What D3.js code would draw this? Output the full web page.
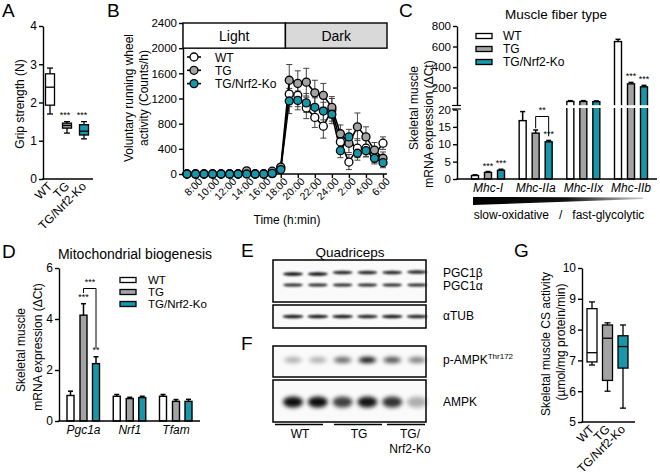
<!doctype html>
<html lang="en">
<head>
<meta charset="utf-8">
<script src="https://cdn.jsdelivr.net/npm/d3@7"></script>
<style>
  body {margin:0; background:#fff}
  svg {font-family: "Liberation Sans", Arial, sans-serif}
  .axis path, .axis line {stroke:#000; stroke-width:1.4px}
  .axis text {fill:#000}
</style>
</head>
<body>
<script>
// ---------- shared ----------
const genotypes = ["WT", "TG", "TG/Nrf2-Ko"];
const fills = ["#ffffff", "#a3a3a3", "#1996aa"];

// ---------- A: grip strength (box plot) ----------
const gripMin = [1.7, 1.2, 1.05];
const gripQ1  = [1.93, 1.33, 1.15];
const gripMed = [2.4, 1.4, 1.25];
const gripQ3  = [2.75, 1.46, 1.42];
const gripMax = [2.9, 1.5, 1.5];
const gripStars = ["", "***", "***"];

// ---------- B: running wheel ----------
const wheelHours = [7,8,9,10,11,12,13,14,15,16,17,18,19,20,21,22,23,24,25,26,27,28,29,30];
const wheelTicks = [8,10,12,14,16,18,20,22,24,26,28,30];
const wheelWT    = [0,0,0,0,0,0,0,10,0,0,5,90, 1270,1250,1050,900,760,1020,510,190,410,410,300,490];
const wheelWTErr = [0,0,0,0,0,0,0,10,0,0,5,30, 200,180,170,160,190,180,150,120,150,130,120,100];
const wheelTG    = [0,0,0,0,0,0,0,50,0,0,45,110, 1490,1440,1460,1290,1250,1060,640,490,750,590,380,250];
const wheelTGErr = [0,0,0,0,0,0,0,20,0,0,20,40, 250,200,220,200,190,170,140,150,220,160,120,100];
const wheelKO    = [0,0,0,0,0,0,0,0,0,0,10,70, 1160,1170,1130,1060,1000,950,370,590,330,370,250,180];
const wheelKOErr = [0,0,0,0,0,0,0,0,0,0,5,30, 200,150,150,150,140,150,110,120,110,100,90,80];

// ---------- C: muscle fiber type ----------
const fiberGenes = ["Mhc-I", "Mhc-IIa", "Mhc-IIx", "Mhc-IIb"];
const fiberWT    = [1.0, 16.8, 64, 648];
const fiberWTErr = [0.2, 2.6, 8, 22];
const fiberTG    = [1.9, 13.2, 64, 236];
const fiberTGErr = [0.25, 0.9, 8, 14];
const fiberKO    = [2.5, 10.7, 62, 207];
const fiberKOErr = [0.3, 0.4, 8, 14];
const fiberStarsTG = ["***", "", "", "***"];
const fiberStarsKO = ["***", "***", "", "***"];

// ---------- D: mitochondrial biogenesis ----------
const mitoGenes = ["Pgc1a", "Nrf1", "Tfam"];
const mitoWT    = [1.0, 0.97, 0.97];
const mitoWTErr = [0.17, 0.07, 0.07];
const mitoTG    = [4.15, 0.88, 0.77];
const mitoTGErr = [0.45, 0.05, 0.07];
const mitoKO    = [2.25, 0.92, 0.77];
const mitoKOErr = [0.27, 0.05, 0.08];

// ---------- E/F: blots (relative band intensity per lane) ----------
const blotLanes = [0,1,2,3,4,5];
const bandPGC1b = [0.95, 0.95, 0.85, 0.85, 0.85, 0.85];
const bandPGC1a = [0.85, 0.85, 0.85, 0.85, 0.85, 0.85];
const bandTUB   = [0.9, 0.9, 0.9, 0.85, 0.9, 0.85];
const bandPAMPK = [0.3, 0.3, 0.6, 0.95, 0.7, 0.5];
const bandAMPK  = [0.95, 0.95, 0.75, 0.92, 0.8, 0.3];

// ---------- G: CS activity (box plot) ----------
const csMin = [6.85, 6.0, 5.45];
const csQ1  = [6.95, 6.35, 6.75];
const csMed = [7.25, 7.72, 7.45];
const csQ3  = [8.68, 8.15, 7.8];
const csMax = [8.9, 8.22, 8.15];

const svg = d3.select("body").append("svg").attr("width", 660).attr("height", 476);

function letter(t, x, y) {
  svg.append("text").attr("x", x).attr("y", y).attr("font-size", 19).text(t);
}
function rotLabel(lines, xs, cys, size) {
  lines.forEach((t, i) => {
    svg.append("text").attr("transform", `translate(${xs[i]},${cys[i]}) rotate(-90)`)
      .attr("text-anchor", "middle").attr("font-size", size || 12).text(t);
  });
}
function leftAxis(scale, x, ticks, size) {
  const ax = d3.axisLeft(scale).tickValues(ticks).tickSize(4).tickSizeOuter(0).tickPadding(2)
    .tickFormat(d => d);
  const g = svg.append("g").attr("class", "axis").attr("transform", `translate(${x},0)`).call(ax);
  g.attr("font-family", null).attr("font-size", size);
  return g;
}
function hLine(x1, x2, y, w) {
  svg.append("line").attr("x1", x1).attr("x2", x2).attr("y1", y).attr("y2", y)
    .attr("stroke", "#000").attr("stroke-width", w || 1.4);
}
function boxes(xs, y, mins, q1s, meds, q3s, maxs, bw) {
  genotypes.forEach((d, i) => {
    const cx = xs(d);
    const g = svg.append("g").attr("stroke", "#000").attr("stroke-width", 1.3);
    g.append("line").attr("x1", cx).attr("x2", cx).attr("y1", y(maxs[i])).attr("y2", y(mins[i]));
    g.append("line").attr("x1", cx - 3).attr("x2", cx + 3).attr("y1", y(maxs[i])).attr("y2", y(maxs[i]));
    g.append("line").attr("x1", cx - 3).attr("x2", cx + 3).attr("y1", y(mins[i])).attr("y2", y(mins[i]));
    g.append("rect").attr("x", cx - bw / 2).attr("width", bw)
      .attr("y", y(q3s[i])).attr("height", y(q1s[i]) - y(q3s[i])).attr("fill", fills[i]);
    g.append("line").attr("x1", cx - bw / 2).attr("x2", cx + bw / 2).attr("y1", y(meds[i])).attr("y2", y(meds[i]));
  });
}
function rotTicks(xs, y) {
  svg.selectAll(null).data(genotypes).join("text")
    .attr("transform", d => `translate(${xs(d) + 3},${y}) rotate(-45)`)
    .attr("text-anchor", "end").attr("font-size", 12).text(d => d);
}
function stars(x, y, t) {
  svg.append("text").attr("x", x).attr("y", y).attr("text-anchor", "middle")
    .attr("font-size", 9).text(t);
}
function bars(groupX, offsets, y, base, series, errs) {
  series.forEach((vals, s) => {
    vals.forEach((v, i) => {
      const cx = groupX(i) + offsets[s];
      const top = y(v), etop = y(v + errs[s][i]);
      svg.append("line").attr("x1", cx).attr("x2", cx).attr("y1", top).attr("y2", etop)
        .attr("stroke", "#000").attr("stroke-width", 1.5);
      svg.append("line").attr("x1", cx - 2.5).attr("x2", cx + 2.5).attr("y1", etop).attr("y2", etop)
        .attr("stroke", "#000").attr("stroke-width", 1.5);
      svg.append("rect").attr("x", cx - 3.5).attr("width", 7).attr("y", top).attr("height", base - top)
        .attr("fill", fills[s]).attr("stroke", "#000").attr("stroke-width", 1.4);
    });
  });
}
function legendRects(x, ys, tx, size) {
  genotypes.forEach((d, i) => {
    svg.append("rect").attr("x", x).attr("y", ys[i] - 2.5).attr("width", 16).attr("height", 5)
      .attr("fill", fills[i]).attr("stroke", "#000").attr("stroke-width", 1.3);
    svg.append("text").attr("x", tx).attr("y", ys[i] + 4).attr("font-size", size).text(d);
  });
}

// ===== Panel A =====
letter("A", 2, 17);
const yA = d3.scaleLinear().domain([0, 4]).range([179, 26]);
const xA = d3.scalePoint().domain(genotypes).range([50, 84]);
leftAxis(yA, 43, [0, 1, 2, 3, 4], 12);
hLine(42.3, 93, 179);
boxes(xA, yA, gripMin, gripQ1, gripMed, gripQ3, gripMax, 9);
genotypes.forEach((d, i) => { if (gripStars[i]) stars(xA(d) - 2, yA(gripMax[i]) - 4, gripStars[i]); });
rotTicks(xA, 187);
rotLabel(["Grip strength (N)"], [24], [104]);

// ===== Panel B =====
letter("B", 107, 17);
const xB = d3.scaleLinear().domain([7, 30]).range([187, 383]);
const yB = d3.scaleLinear().domain([0, 2400]).range([174, 23]);
leftAxis(yB, 183, [0, 400, 800, 1200, 1600, 2000, 2400], 11.5);
const lightsOff = 18.55;
svg.append("rect").attr("x", 183).attr("y", yB(2400)).attr("width", xB(lightsOff) - 183)
  .attr("height", yB(2000) - yB(2400)).attr("fill", "#fff").attr("stroke", "#000").attr("stroke-width", 1.4);
svg.append("rect").attr("x", xB(lightsOff)).attr("y", yB(2400)).attr("width", 387 - xB(lightsOff))
  .attr("height", yB(2000) - yB(2400)).attr("fill", "#d9d9d9").attr("stroke", "#000").attr("stroke-width", 1.4);
svg.append("text").attr("x", (183 + xB(lightsOff)) / 2).attr("y", 41).attr("text-anchor", "middle")
  .attr("font-size", 14).text("Light");
svg.append("text").attr("x", (387 + xB(lightsOff)) / 2).attr("y", 41).attr("text-anchor", "middle")
  .attr("font-size", 14).text("Dark");
const gxB = svg.append("g").attr("class", "axis").attr("transform", "translate(0,174)")
  .call(d3.axisBottom(xB).tickValues(wheelTicks).tickSize(4).tickSizeOuter(0)
    .tickFormat(h => (h > 24 ? h - 24 : h) + ":00"));
gxB.attr("font-family", null).attr("font-size", 10.5);
gxB.select(".domain").attr("d", "M182.3,0H387");
gxB.selectAll("text").attr("text-anchor", "end").attr("transform", "translate(-3,-2) rotate(-45)").attr("dy", "0.7em");
svg.append("text").attr("x", 287).attr("y", 224).attr("text-anchor", "middle").attr("font-size", 12)
  .text("Time (h:min)");
rotLabel(["Voluntary running wheel", "activity (Counts/h)"], [133, 148], [98, 98]);

const wheelSeries = [[wheelWT, wheelWTErr], [wheelTG, wheelTGErr], [wheelKO, wheelKOErr]];
wheelSeries.forEach(([vals, errs]) => {
  const g = svg.append("g").attr("stroke", "#444").attr("stroke-width", 1);
  vals.forEach((v, i) => {
    if (errs[i] < 15) return;
    const x = xB(wheelHours[i]);
    g.append("line").attr("x1", x).attr("x2", x).attr("y1", yB(v - errs[i])).attr("y2", yB(v + errs[i]));
    g.append("line").attr("x1", x - 3).attr("x2", x + 3).attr("y1", yB(v + errs[i])).attr("y2", yB(v + errs[i]));
    g.append("line").attr("x1", x - 3).attr("x2", x + 3).attr("y1", yB(v - errs[i])).attr("y2", yB(v - errs[i]));
  });
});
const lineB = d3.line().x((d, i) => xB(wheelHours[i])).y(d => yB(d));
wheelSeries.forEach(([vals]) => {
  svg.append("path").datum(vals).attr("d", lineB).attr("fill", "none")
    .attr("stroke", "#000").attr("stroke-width", 1.6);
});
wheelSeries.forEach(([vals], s) => {
  svg.append("g").selectAll("circle").data(vals).join("circle")
    .attr("cx", (d, i) => xB(wheelHours[i])).attr("cy", d => yB(d)).attr("r", 4)
    .attr("fill", fills[s]).attr("stroke", "#000").attr("stroke-width", 1.3);
});
genotypes.forEach((d, i) => {
  const ly = 57 + i * 13.3;
  hLine(187, 201, ly, 1.6);
  svg.append("circle").attr("cx", 194).attr("cy", ly).attr("r", 4)
    .attr("fill", fills[i]).attr("stroke", "#000").attr("stroke-width", 1.3);
  svg.append("text").attr("x", 215).attr("y", ly + 4.5).attr("font-size", 12).text(d);
});

// ===== Panel C (broken y axis) =====
letter("C", 399, 17);
svg.append("text").attr("x", 556).attr("y", 19).attr("text-anchor", "middle").attr("font-size", 13.5)
  .text("Muscle fiber type");
const cLow = d3.scaleLinear().domain([0, 20]).range([179, 109.5]);
const cHigh = d3.scaleLinear().domain([20, 800]).range([106, 26]);
const yC = v => (v <= 20 ? cLow(v) : cHigh(v));
const xC = d3.scalePoint().domain(d3.range(fiberGenes.length)).range([488, 631]);
const cOff = [-13, 0, 13];
bars(xC, cOff, yC, 179, [fiberWT, fiberTG, fiberKO], [fiberWTErr, fiberTGErr, fiberKOErr]);
// break gap through the tall bars
svg.append("rect").attr("x", 462).attr("y", 105.2).attr("width", 196).attr("height", 2.8).attr("fill", "#fff");
leftAxis(cLow, 457, [0, 5, 10, 15, 20], 11.5);
leftAxis(cHigh, 457, [200, 400, 600, 800], 11.5);
svg.append("rect").attr("x", 452).attr("y", 105.8).attr("width", 10).attr("height", 3).attr("fill", "#fff");
hLine(452, 461, 105.5, 1.2);
hLine(452, 461, 109, 1.2);
hLine(456.3, 657, 179);
fiberGenes.forEach((g, i) => {
  if (fiberStarsTG[i]) stars(xC(i), yC(fiberTG[i] + fiberTGErr[i]) - 3, fiberStarsTG[i]);
  if (fiberStarsKO[i]) stars(xC(i) + 13, yC(fiberKO[i] + fiberKOErr[i]) - 3, fiberStarsKO[i]);
  svg.append("text").attr("x", xC(i)).attr("y", 192).attr("text-anchor", "middle")
    .attr("font-size", 12).attr("font-style", "italic").text(g);
});
// ** bracket TG vs TG/Nrf2-Ko in Mhc-IIa
svg.append("path").attr("d", `M${xC(1)},${yC(14.6)}V116.5H${xC(1) + 13}V${yC(12.3)}`)
  .attr("fill", "none").attr("stroke", "#000").attr("stroke-width", 1);
stars(xC(1) + 6.5, 113, "**");
legendRects(476, [36, 49, 62], 503, 12);
const grad = svg.append("defs").append("linearGradient").attr("id", "wedge");
grad.append("stop").attr("offset", "0%").attr("stop-color", "#000");
grad.append("stop").attr("offset", "55%").attr("stop-color", "#111");
grad.append("stop").attr("offset", "100%").attr("stop-color", "#ccc");
svg.append("path").attr("d", "M473,197L643,197.5L643,199L473,205Z").attr("fill", "url(#wedge)");
svg.append("text").attr("x", 559).attr("y", 219).attr("text-anchor", "middle").attr("font-size", 12)
  .attr("xml:space", "preserve").text("slow-oxidative   /   fast-glycolytic");
rotLabel(["Skeletal muscle", "mRNA expression (\u0394Ct)"], [418, 433], [108, 124]);

// ===== Panel D =====
letter("D", 2, 258);
svg.append("text").attr("x", 135).attr("y", 259).attr("text-anchor", "middle").attr("font-size", 14)
  .text("Mitochondrial biogenesis");
const yD = d3.scaleLinear().domain([0, 6]).range([421, 268]);
const xD = d3.scalePoint().domain(d3.range(mitoGenes.length)).range([83.5, 176]);
bars(xD, [-13, 0, 12.5], yD, 421, [mitoWT, mitoTG, mitoKO], [mitoWTErr, mitoTGErr, mitoKOErr]);
leftAxis(yD, 59, [0, 2, 4, 6], 12);
hLine(58.3, 200, 421);
mitoGenes.forEach((g, i) => {
  svg.append("text").attr("x", xD(i)).attr("y", 434).attr("text-anchor", "middle")
    .attr("font-size", 12).attr("font-style", "italic").text(g);
});
stars(xD(0), yD(mitoTG[0] + mitoTGErr[0]) - 4, "***");
stars(xD(0) + 12.5, yD(mitoKO[0] + mitoKOErr[0]) - 4, "**");
svg.append("path").attr("d", `M${xD(0)},293V288.5H${xD(0) + 12.5}V348`)
  .attr("fill", "none").attr("stroke", "#000").attr("stroke-width", 1);
stars(xD(0) + 6.5, 285, "***");
legendRects(120, [280, 292, 304], 148, 11.5);
rotLabel(["Skeletal muscle", "mRNA expression (\u0394Ct)"], [25, 42], [350, 347]);

// ===== Panels E / F (blots) =====
letter("E", 241, 257);
letter("F", 241, 350);
svg.append("text").attr("x", 350).attr("y", 257).attr("text-anchor", "middle").attr("font-size", 13.5)
  .text("Quadriceps");
const defs = svg.append("defs");
defs.append("filter").attr("id", "blur1").attr("x", "-50%").attr("y", "-200%").attr("width", "200%").attr("height", "500%")
  .append("feGaussianBlur").attr("stdDeviation", 1.1);
defs.append("filter").attr("id", "blur2").attr("x", "-50%").attr("y", "-100%").attr("width", "200%").attr("height", "300%")
  .append("feGaussianBlur").attr("stdDeviation", 2.2);
const laneX = d3.scalePoint().domain(blotLanes).range([293, 417]);
function blotBox(y0, y1) {
  svg.append("rect").attr("x", 273).attr("y", y0).attr("width", 153).attr("height", y1 - y0)
    .attr("fill", "#fafafa").attr("stroke", "#000").attr("stroke-width", 1.5);
}
function bands(vals, y, rx, ry, filt, dy) {
  svg.append("g").attr("filter", `url(#${filt})`).selectAll("ellipse").data(vals).join("ellipse")
    .attr("cx", (d, i) => laneX(i)).attr("cy", (d, i) => y + (dy ? dy[i] : 0))
    .attr("rx", rx).attr("ry", ry).attr("fill", "#000").attr("opacity", d => d);
}
blotBox(260, 302);
bands(bandPGC1b, 272.5, 10, 1.8, "blur1", [1.5, 1.5, 0, 0, 0, -0.5]);
bands(bandPGC1a, 285, 10, 1.6, "blur1");
blotBox(305, 328);
bands(bandTUB, 316.5, 10.5, 1.7, "blur1");
blotBox(346, 377);
bands(bandPAMPK, 360, 9, 3, "blur2");
blotBox(380, 422);
bands(bandAMPK, 402, 10, 5.5, "blur2");
const blotLabels = [["PGC1\u03b2", 277], ["PGC1\u03b1", 290], ["\u03b1TUB", 320], ["AMPK", 406]];
blotLabels.forEach(([t, y]) => svg.append("text").attr("x", 443).attr("y", y).attr("font-size", 12).text(t));
const pt = svg.append("text").attr("x", 443).attr("y", 364).attr("font-size", 12).text("p-AMPK");
pt.append("tspan").attr("dy", -5).attr("font-size", 8).text("Thr172");
hLine(275, 323, 424.5, 1.5);
hLine(334, 382, 424.5, 1.5);
hLine(387, 425, 424.5, 1.5);
[["WT", 300, 438], ["TG", 359, 438], ["TG/", 410, 438], ["Nrf2-Ko", 410, 453]].forEach(([t, x, y]) =>
  svg.append("text").attr("x", x).attr("y", y).attr("text-anchor", "middle").attr("font-size", 12).text(t));

// ===== Panel G =====
letter("G", 514, 257);
const yG = d3.scaleLinear().domain([5, 10]).range([422, 268]);
const xG = d3.scalePoint().domain(genotypes).range([592, 623]);
leftAxis(yG, 582, [5, 6, 7, 8, 9, 10], 12);
hLine(581.3, 635, 422);
boxes(xG, yG, csMin, csQ1, csMed, csQ3, csMax, 10);
rotTicks(xG, 430);
rotLabel(["Skeletal muscle CS activity", "(\u00b5mol/mg protein/min)"], [550, 565], [344, 342]);
</script>
</body>
</html>
